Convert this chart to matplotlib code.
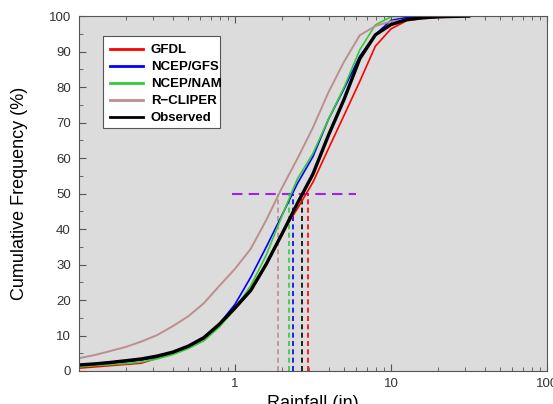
import numpy as np
import matplotlib
matplotlib.use('Agg')
from matplotlib import pyplot as plt
from matplotlib.patches import Rectangle

plt.rcParams['font.family'] = ['Liberation Sans', 'DejaVu Sans']

# rainfall bins (in) and cumulative frequency (%) for each source
rain = [0.100, 0.126, 0.158, 0.200, 0.251, 0.316, 0.398, 0.501, 0.631, 0.794, 1.00, 1.26, 1.58,
        2.00, 2.51, 3.16, 3.98, 5.01, 6.31, 7.94, 10.0, 12.6, 15.8, 20.0, 25.1, 31.6]
gfdl = [0.8, 1.15, 1.5, 1.85, 2.2, 3.6, 5.1, 6.6, 8.9, 12.7, 17.4, 22.4, 29.7,
        38.9, 45.7, 53.2, 62.7, 72.1, 81.6, 91.5, 96.4, 98.7, 99.3, 99.6, 99.8, 99.9]
gfs = [1.4, 1.7, 2.1, 2.6, 3.1, 3.9, 5.0, 6.7, 9.2, 13.3, 18.8, 26.4, 34.8,
       43.9, 52.8, 60.4, 71.0, 79.6, 88.7, 94.8, 98.8, 99.6, 99.9, 100, 100, 100]
nam = [1.2, 1.5, 1.8, 2.1, 2.5, 3.4, 4.6, 6.3, 8.5, 12.4, 17.6, 24.0, 32.5,
       43.7, 54.1, 61.3, 71.0, 80.0, 90.5, 97.5, 99.8, 100, 100, 100, 100, 100]
rcliper = [3.6, 4.5, 5.6, 6.8, 8.3, 10.1, 12.6, 15.4, 19.1, 24.0, 28.8, 34.4, 42.4,
           51.6, 59.8, 68.6, 78.6, 87.2, 94.6, 97.2, 98.5, 99.0, 99.4, 99.7, 99.9, 100]
observed = [1.7, 2.0, 2.4, 2.9, 3.4, 4.2, 5.3, 7.0, 9.4, 13.2, 17.8, 22.7, 30.0,
            38.6, 47.2, 55.5, 66.5, 76.6, 88.0, 94.7, 97.6, 99.0, 99.5, 99.8, 99.9, 100]

names = ['GFDL', 'NCEP/GFS', 'NCEP/NAM', 'R\u2212CLIPER', 'Observed']
# median rainfall of each source (in)
medians = [2.92, 2.34, 2.21, 1.89, 2.70]
series = [gfdl, gfs, nam, rcliper, observed]
colors = ['#ff0000', '#0000ff', '#33cc33', '#bc8f8f', '#000000']
widths = [1.2, 1.2, 1.2, 1.4, 2.4]

fig = plt.figure(figsize=(5.53, 4.04), dpi=100)
ax = fig.add_axes([0.143, 0.0817, 0.846, 0.8785])
ax.set_facecolor('#dcdcdc')

ax.plot([0.96, 6.0], [50, 50], color='#a020f0', lw=1.5, dashes=(5, 3))
for m, c in zip(medians, colors):
    ax.plot([m, m], [0, 50], color=c, lw=1.2, dashes=(3, 2))

for ys, nm, c, w in zip(series, names, colors, widths):
    ax.plot(rain, ys, color=c, lw=w, label=nm)

ax.set_xscale('log')
ax.set_xlim(0.1, 100)
ax.set_ylim(0, 100)
ax.set_yticks(np.arange(0, 101, 10))
ax.set_yticks(np.arange(5, 100, 10), minor=True)
ax.set_xticks([1, 10, 100])
ax.set_xticklabels(['1', '10', '100'])

for s in ax.spines.values():
    s.set_color('#555555')
ax.tick_params(which='both', direction='in', top=True, right=False, colors='#555555',
               labelcolor='#333333', labelsize=9.5)
ax.tick_params(which='major', length=5)
ax.tick_params(which='minor', length=3)
ax.tick_params(axis='x', which='major', pad=5)
ax.tick_params(axis='y', which='major', pad=6)

ax.set_xlabel('Rainfall (in)', fontsize=13, labelpad=4)
ax.set_ylabel('Cumulative Frequency (%)', fontsize=13, labelpad=15)

# legend box: white, tight to the text on the right
box = Rectangle((0.186, 0.683), 0.212, 0.228, transform=fig.transFigure, clip_on=False,
                facecolor='white', edgecolor='#555555', lw=0.8, zorder=4)
ax.add_patch(box)
leg = ax.legend(loc='upper left', bbox_to_anchor=(0.199, 0.891), bbox_transform=fig.transFigure,
                borderaxespad=0, frameon=False, prop={'weight': 'bold', 'size': 9.5},
                handlelength=2.5, labelspacing=0.36, borderpad=0, handletextpad=0.6)
leg.set_zorder(5)
for ln in leg.get_lines():
    ln.set_linewidth(2.0)

fig.savefig('out.png', dpi=100)
